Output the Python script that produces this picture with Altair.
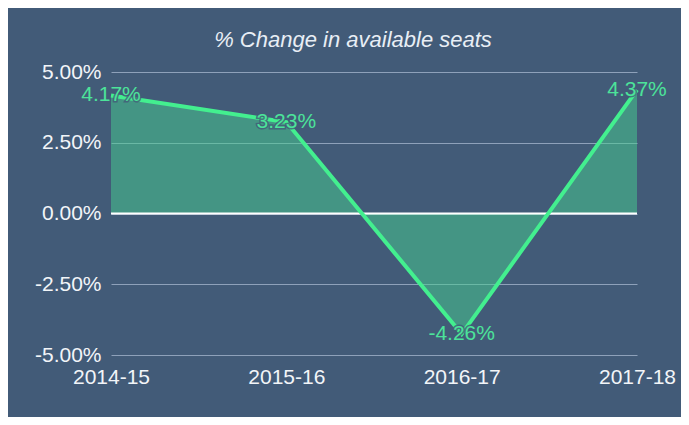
import altair as alt
import pandas as pd

years = ["2014-15", "2015-16", "2016-17", "2017-18"]
changes = [4.17, 3.23, -4.26, 4.37]
y_ticks = [-5, -2.5, 0, 2.5, 5]

df = pd.DataFrame({"year": years, "change": changes})
df["base"] = 0.0
df["label"] = [f"{v:.2f}%" for v in changes]

BG = "#425b78"
LINE = "#43ef8f"
TEXT = "#4ce39a"
FONT = "Liberation Sans"
FS = 21

x_enc = alt.X("year:O", sort=years, scale=alt.Scale(type="point", padding=0),
              axis=alt.Axis(title=None, labelAngle=0, labelFontSize=FS, labelColor="#f2f5f8",
                            labelFont=FONT, ticks=False, domain=False, grid=False, labelPadding=11))
y_scale = alt.Scale(domain=[-5, 5], nice=False, zero=False)
y_axis = alt.Axis(title=None, values=y_ticks,
                  labelExpr="(datum.value < 0 ? '-' : '') + format(abs(datum.value), '.2f') + '%'",
                  labelFontSize=FS, labelColor="#f2f5f8", labelFont=FONT, ticks=False,
                  domain=False, grid=True, gridColor="#8ea1ba", gridWidth=1, labelPadding=10)
y_enc = alt.Y("change:Q", scale=y_scale, axis=y_axis)

base = alt.Chart(df)

area = base.mark_area(color="#46d08f", opacity=0.5).encode(
    x=x_enc, y=y_enc, y2="base:Q")

zero = alt.Chart(pd.DataFrame({"z": [0.0]})).mark_rule(color="#ffffff", strokeWidth=2).encode(
    y=alt.Y("z:Q", scale=y_scale, axis=y_axis))

line = base.mark_line(color=LINE, strokeWidth=4).encode(x=x_enc, y=y_enc)

halo = base.mark_text(font=FONT, fontSize=FS, stroke=BG, strokeWidth=3, strokeOpacity=0.8,
                      fill=BG, baseline="middle", align="center").encode(
    x=x_enc, y=y_enc, text="label:N")
labels = base.mark_text(font=FONT, fontSize=FS, color=TEXT, baseline="middle", align="center").encode(
    x=x_enc, y=y_enc, text="label:N")

chart = alt.layer(area, zero, line, halo, labels).properties(
    width=526, height=283,
    title=alt.TitleParams("% Change in available seats", fontSize=22, fontStyle="italic",
                          fontWeight="normal", color="#e8eef5", font=FONT, dx=-21, offset=9),
    autosize=alt.AutoSizeParams(type="none"),
    padding={"left": 103, "top": 64, "right": 44, "bottom": 62},
    background=BG,
).configure_view(strokeWidth=0)

chart.save("out.html", embed_options={"renderer": "svg", "actions": False})
